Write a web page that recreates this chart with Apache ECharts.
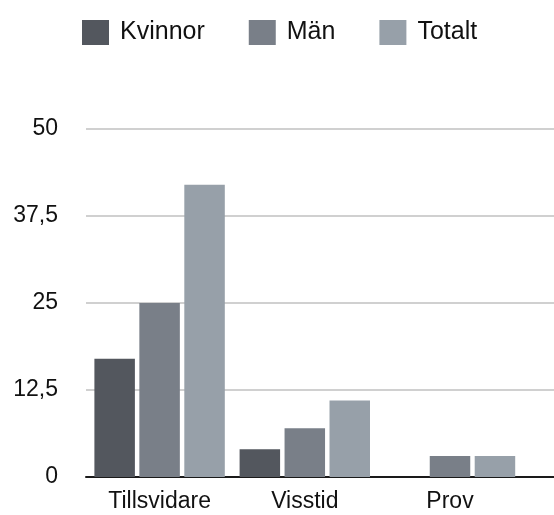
<!DOCTYPE html>
<html>
<head>
<meta charset="utf-8">
<script src="https://cdn.jsdelivr.net/npm/echarts@6/dist/echarts.min.js"></script>
<style>
  html, body { margin: 0; padding: 0; background: #fff; }
  #chart { width: 554px; height: 515px; }
</style>
</head>
<body>
<div id="chart"></div>
<script>
// data
var categories = ["Tillsvidare", "Visstid", "Prov"];
var kvinnor = [17, 4, 0];
var man = [25, 7, 3];
var totalt = [42, 11, 3];

var fontFam = "'Liberation Sans', Arial, sans-serif";

var chart = echarts.init(document.getElementById("chart"));

function barSeries(name, data, color) {
  return {
    name: name,
    type: "bar",
    xAxisIndex: 1,
    yAxisIndex: 1,
    data: data,
    barWidth: 40.5,
    barGap: "11%",
    itemStyle: { color: color },
    animation: false
  };
}

chart.setOption({
  animation: false,
  legend: {
    top: 15,
    left: 77,
    itemWidth: 27,
    itemHeight: 25,
    itemGap: 44,
    icon: "rect",
    textStyle: { fontSize: 25, color: "#111", fontFamily: fontFam, padding: [0, 0, 0, 6] },
    data: ["Kvinnor", "Män", "Totalt"]
  },
  grid: [
    // wide grid: gridlines + axis line run to the right edge
    { left: 86, right: 0, top: 129, bottom: 38 },
    // bar grid
    { left: 87, width: 435.6, top: 129, bottom: 38 }
  ],
  xAxis: [
    {
      gridIndex: 0, type: "category", data: [""],
      axisLine: { show: true, lineStyle: { color: "#1a1a1a", width: 2 } },
      axisTick: { show: false }, axisLabel: { show: false }
    },
    {
      gridIndex: 1, type: "category", data: categories,
      axisLine: { show: false }, axisTick: { show: false },
      axisLabel: { fontSize: 23, color: "#111", fontFamily: fontFam, margin: 13 }
    }
  ],
  yAxis: [
    {
      gridIndex: 0, type: "value", min: 0, max: 50, interval: 12.5,
      axisLine: { show: false }, axisTick: { show: false },
      splitLine: { lineStyle: { color: "#c0c0c0", width: 1.5 } },
      axisLabel: {
        fontSize: 23, color: "#111", fontFamily: fontFam, margin: 28,
        formatter: function (v) { return String(v).replace(".", ","); }
      }
    },
    {
      gridIndex: 1, type: "value", min: 0, max: 50, interval: 12.5,
      show: false
    }
  ],
  series: [
    barSeries("Kvinnor", kvinnor, "#53575e"),
    barSeries("Män", man, "#797f88"),
    barSeries("Totalt", totalt, "#97a0a9")
  ]
});

window.onresize = function () { chart.resize(); };
</script>
</body>
</html>
